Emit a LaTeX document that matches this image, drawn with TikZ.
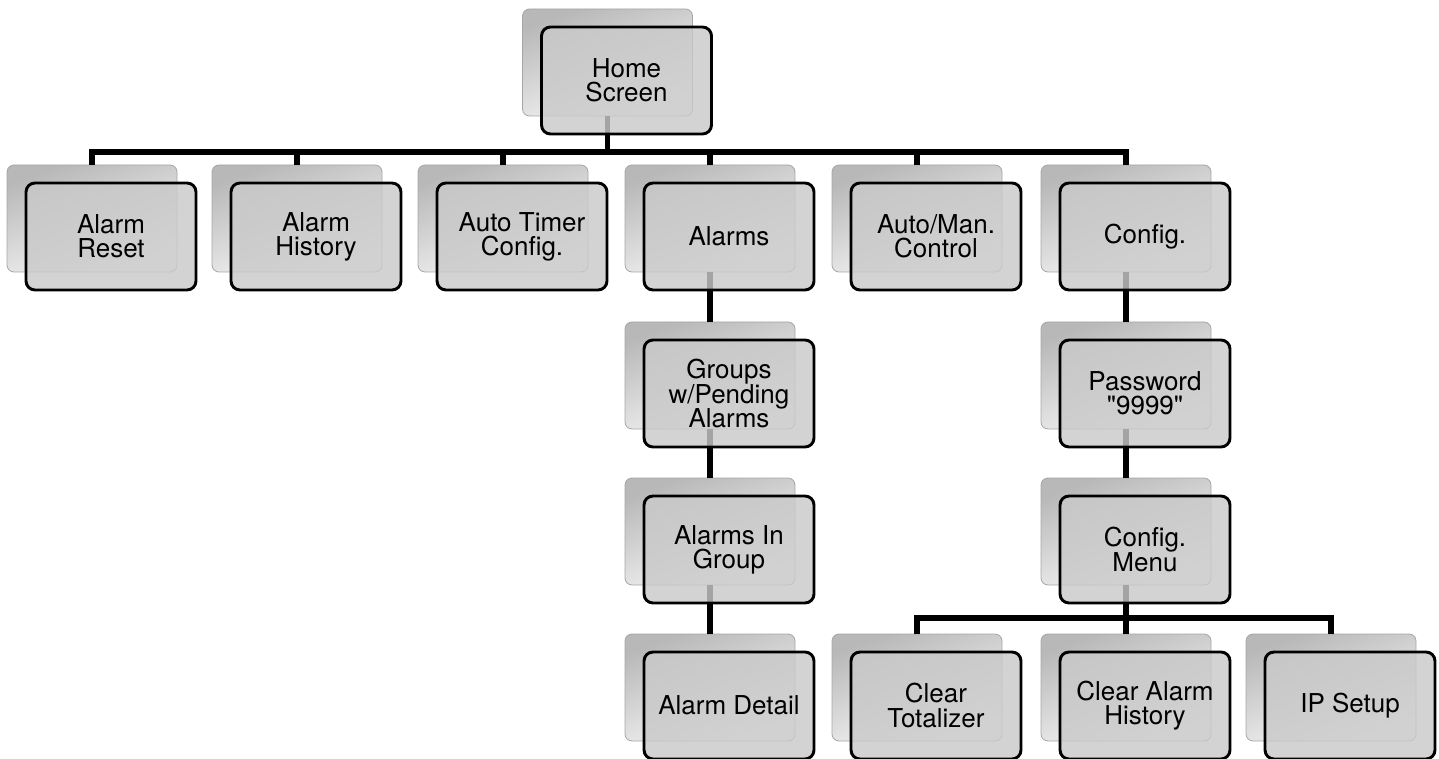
\documentclass[tikz,border=0pt]{standalone}
\usepackage{fontspec}
\setmainfont{TeX Gyre Heros}
\newlength{\du}
\setlength{\du}{0.75pt}
\pgfdeclarelayer{cardback}
\pgfdeclarelayer{wires}
\pgfsetlayers{cardback,wires,main}
\newcommand{\cardfont}{\fontsize{19.5}{18.2}\selectfont\lineskiplimit=-20pt\relax}
\tikzset{
  backcard/.style={rectangle, rounded corners=7\du, minimum width=170\du, minimum height=107\du,
    draw=black!35, line width=0.6pt, top color=black!28, bottom color=black!2, shading angle=20},
  frontcard/.style={rectangle, rounded corners=9\du, minimum width=170\du, minimum height=107\du,
    draw=black, line width=2.2pt, fill=black!21, fill opacity=0.82, text opacity=1, align=center,
    font=\cardfont},
  wire/.style={draw=black, line width=4.4pt}
}
% back card at (x,y), front card shifted down right
\newcommand{\menucard}[4]{%
\begin{pgfonlayer}{cardback}
\node[backcard] (#1b) at (#2,#3) {};
\end{pgfonlayer}
\node[frontcard] (#1) at ([shift={(19,18)}]#1b.center) {#4};
}
\begin{document}
\begin{tikzpicture}[x=\du,y=-\du]
\useasboundingbox (0,0) rectangle (1439,759);
\coordinate (topbus) at (0,152);
\coordinate (lowbus) at (0,618);
% top level
\menucard{home}{607.5}{62.5}{Home\\Screen}
% first row
\menucard{reset}{92}{218.5}{Alarm\\Reset}
\menucard{history}{297}{218.5}{Alarm\\History}
\menucard{timer}{503}{218.5}{Auto Timer\\Config.}
\menucard{alarms}{710}{218.5}{Alarms}
\menucard{automan}{917}{218.5}{Auto/Man.\\Control}
\menucard{config}{1126}{218.5}{Config.}
% alarms branch
\menucard{groups}{710}{375.5}{Groups\\w/Pending\\Alarms}
\menucard{ingroup}{710}{531.5}{Alarms In\\Group}
\menucard{detail}{710}{687.5}{Alarm Detail}
% config branch
\menucard{password}{1126}{375.5}{Password\\\textquotedbl 9999\textquotedbl}
\menucard{cfgmenu}{1126}{531.5}{Config.\\Menu}
\menucard{totalizer}{917}{687.5}{Clear\\Totalizer}
\menucard{clrhistory}{1126}{687.5}{Clear Alarm\\History}
\menucard{ipsetup}{1331}{687.5}{IP Setup}
\begin{pgfonlayer}{wires}
\foreach \child in {reset,history,timer,alarms,automan,config}
  \draw[wire] (homeb.south) -- (homeb.south |- topbus) -| (\child b.north);
\draw[wire] (alarmsb.south) -- (groupsb.north);
\draw[wire] (groupsb.south) -- (ingroupb.north);
\draw[wire] (ingroupb.south) -- (detailb.north);
\draw[wire] (configb.south) -- (passwordb.north);
\draw[wire] (passwordb.south) -- (cfgmenub.north);
\foreach \child in {totalizer,clrhistory,ipsetup}
  \draw[wire] (cfgmenub.south) -- (cfgmenub.south |- lowbus) -| (\child b.north);
\end{pgfonlayer}
\end{tikzpicture}
\end{document}
